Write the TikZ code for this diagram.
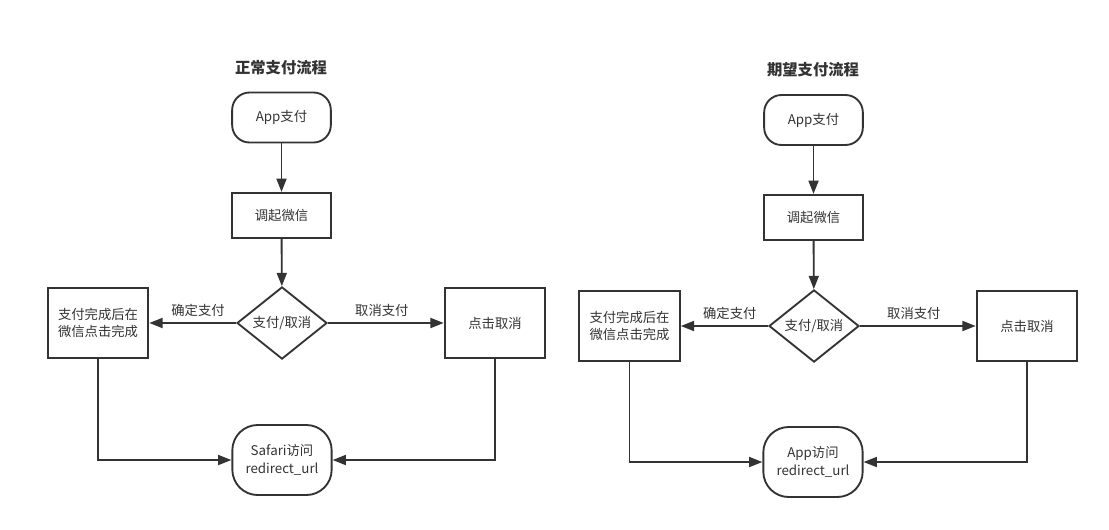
\documentclass[tikz,border=0pt]{standalone}
\usepackage{fontspec}
\setmainfont{Noto Sans CJK SC}
\usetikzlibrary{shapes.geometric,arrows.meta}
\definecolor{flowgray}{HTML}{333333}

\begin{document}
\begin{tikzpicture}[x=0.75pt, y=-0.75pt, line width=1.4pt,
	every node/.style = {align=center, text=flowgray, font=\fontsize{10}{13}\selectfont},
	title/.style = {font=\bfseries\fontsize{11.5}{14}\selectfont},
	terminal/.style = {draw=flowgray, rounded corners=13pt, minimum width=74pt, minimum height=37.5pt},
	endterm/.style = {draw=flowgray, rounded corners=19pt, minimum width=74.5pt, minimum height=52.5pt},
	process/.style = {draw=flowgray, minimum width=74pt, minimum height=34pt},
	sidebox/.style = {draw=flowgray, minimum width=75.5pt, minimum height=52.5pt},
	decision/.style = {draw=flowgray, shape=diamond, inner sep=0pt, minimum width=67.5pt, minimum height=52.5pt},
	flow/.style = {draw=flowgray, -{Triangle[length=10pt, width=7.5pt]}},
	edgelabel/.style = {above, inner sep=4pt}]
	\useasboundingbox (0,0) rectangle (1109,529);

	% normal flow
	\node[title] (title1) at (281,68) {正常支付流程};
	\node[terminal] (app1) at (281.5,117.5) {App支付};
	\node[process] (call1) at (281.5,215.5) {调起微信};
	\node[decision] (dec1) at (282,323) {支付/取消};
	\node[sidebox] (done1) at (98,323) {支付完成后在\\微信点击完成};
	\node[sidebox] (cancel1) at (495,323) {点击取消};
	\node[endterm] (end1) at (282,460) {Safari访问\\redirect\_url};

	\draw[flow] (app1) -- (call1);
	\draw[flow] (call1) -- (dec1);
	\draw[flow] (dec1) -- node[edgelabel, xshift=4pt] {确定支付} (done1);
	\draw[flow] (dec1) -- node[edgelabel, xshift=-3pt] {取消支付} (cancel1);
	\draw[flow] (done1) |- (end1);
	\draw[flow] (cancel1) |- (end1);

	% expected flow
	\node[title] (title2) at (813,70) {期望支付流程};
	\node[terminal] (app2) at (813.5,120) {App支付};
	\node[process] (call2) at (813.5,217.5) {调起微信};
	\node[decision] (dec2) at (814,326) {支付/取消};
	\node[sidebox] (done2) at (629.5,326) {支付完成后在\\微信点击完成};
	\node[sidebox] (cancel2) at (1027,326) {点击取消};
	\node[endterm] (end2) at (813,462) {App访问\\redirect\_url};

	\draw[flow] (app2) -- (call2);
	\draw[flow] (call2) -- (dec2);
	\draw[flow] (dec2) -- node[edgelabel, xshift=4pt] {确定支付} (done2);
	\draw[flow] (dec2) -- node[edgelabel, xshift=-3pt] {取消支付} (cancel2);
	\draw[flow] (done2) |- (end2);
	\draw[flow] (cancel2) |- (end2);
\end{tikzpicture}
\end{document}
